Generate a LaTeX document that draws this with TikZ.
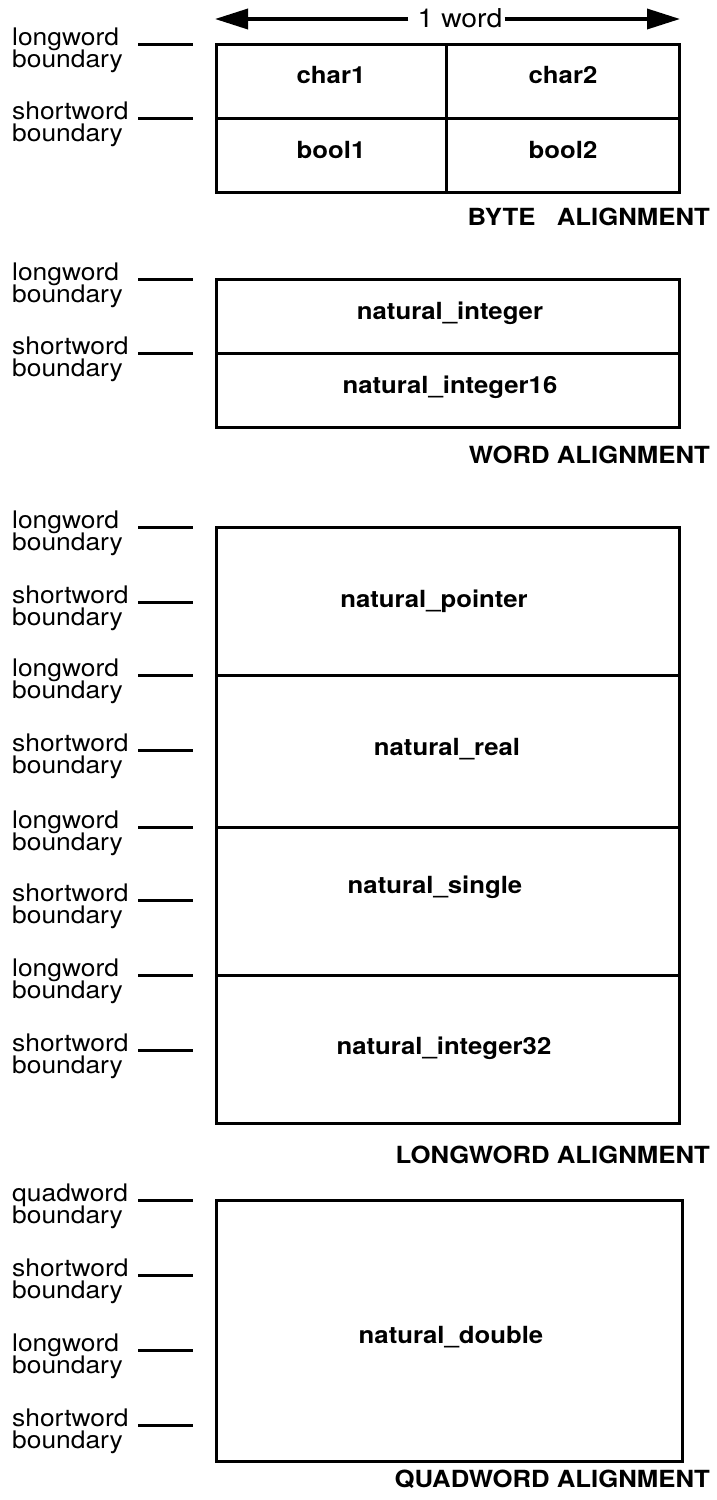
\documentclass[tikz,border=0pt]{standalone}
\usepackage{fontspec}
\setmainfont{TeX Gyre Heros}[FakeStretch=1.09]
\usetikzlibrary{arrows.meta}
\newcommand{\bnd}[3]{%
  \node[lab] (#1a) at (12,#2+1) {#3};
  \node[lab] (#1b) at (12,#2+23) {boundary};
  \coordinate (#1s) at (138,#2);
  \coordinate (#1e) at (193,#2);
  \draw[dashline] (#1s) -- (#1e);}
\begin{document}
\begin{tikzpicture}[x=1pt,y=-1pt,
  lab/.style={anchor=base west, font=\fontsize{24.2}{24.2}\selectfont, inner sep=0pt},
  dashline/.style={line width=3pt},
  cell/.style={draw, line width=3pt, inner sep=0pt},
  fld/.style={inner sep=0pt, font=\bfseries\fontsize{23.6}{23.6}\selectfont, text height=0.72em, text depth=0pt},
  ttl/.style={anchor=base east, inner sep=0pt, font=\bfseries\fontsize{23.6}{23.6}\selectfont},
  tip/.style={-{Triangle[length=33pt,width=20pt]}, line width=3.5pt}]
\useasboundingbox (0,0) rectangle (716,1500);

% ---------- BYTE ALIGNMENT ----------
\coordinate (ltip) at (215,19);
\coordinate (rtip) at (680,19);
\node[inner sep=0pt, font=\fontsize{26}{26}\selectfont, text height=0.72em, text depth=0pt] (word) at (460,23.5) {1 word};
\draw[tip] ([xshift=-9pt]word.west |- ltip) -- (ltip);
\draw[tip] ([xshift=2pt]word.east |- rtip) -- (rtip);

\bnd{b1}{44}{longword}
\bnd{b2}{118}{shortword}
\node[cell, minimum width=230pt, minimum height=74pt] (c1) at (331,81) {};
\node[cell, minimum width=233pt, minimum height=74pt] (c2) at (562.5,81) {};
\node[cell, minimum width=230pt, minimum height=74pt] (c3) at (331,155) {};
\node[cell, minimum width=233pt, minimum height=74pt] (c4) at (562.5,155) {};
\node[fld] (char1) at (331,80) {char1};
\node[fld] (char2) at (563,80) {char2};
\node[fld] (bool1) at (331,155) {bool1};
\node[fld] (bool2) at (563,155) {bool2};
\node[ttl] (t1) at (710,225) {BYTE\ \ \ ALIGNMENT};

% ---------- WORD ALIGNMENT ----------
\bnd{w1}{279}{longword}
\bnd{w2}{353}{shortword}
\node[cell, minimum width=463pt, minimum height=74pt] (c5) at (447.5,316) {};
\node[cell, minimum width=463pt, minimum height=74pt] (c6) at (447.5,390) {};
\node[fld] (ni) at (450,316) {natural\_integer};
\node[fld] (ni16) at (450,390) {natural\_integer16};
\node[ttl] (t2) at (710,463) {WORD ALIGNMENT};

% ---------- LONGWORD ALIGNMENT ----------
\bnd{l1}{527}{longword}
\bnd{l2}{602}{shortword}
\bnd{l3}{675}{longword}
\bnd{l4}{750}{shortword}
\bnd{l5}{827}{longword}
\bnd{l6}{900}{shortword}
\bnd{l7}{975}{longword}
\bnd{l8}{1050}{shortword}
\node[cell, minimum width=463pt, minimum height=148pt] (c7) at (447.5,601) {};
\node[cell, minimum width=463pt, minimum height=152pt] (c8) at (447.5,751) {};
\node[cell, minimum width=463pt, minimum height=148pt] (c9) at (447.5,901) {};
\node[cell, minimum width=463pt, minimum height=148pt] (c10) at (447.5,1049) {};
\node[fld] (np) at (434,603.5) {natural\_pointer};
\node[fld] (nr) at (447,752) {natural\_real};
\node[fld] (ns) at (435,890) {natural\_single};
\node[fld] (n32) at (444,1051) {natural\_integer32};
\node[ttl] (t3) at (710,1163) {LONGWORD ALIGNMENT};

% ---------- QUADWORD ALIGNMENT ----------
\bnd{q1}{1200}{quadword}
\bnd{q2}{1275}{shortword}
\bnd{q3}{1350}{longword}
\bnd{q4}{1425}{shortword}
\node[cell, minimum width=466pt, minimum height=261pt] (c11) at (449,1330.5) {};
\node[fld] (nd) at (451,1340) {natural\_double};
\node[ttl] (t4) at (710,1487) {QUADWORD ALIGNMENT};
\end{tikzpicture}
\end{document}
